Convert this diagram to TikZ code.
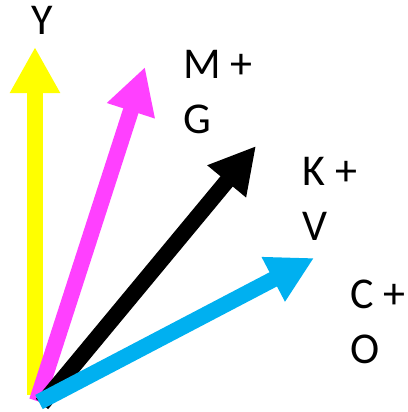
\documentclass[tikz,border=0pt]{standalone}
\usepackage{fontspec}
\setmainfont{Carlito}
\usetikzlibrary{arrows.meta}
\definecolor{ayellow}{HTML}{FFFF00}
\definecolor{amagenta}{HTML}{FF40FF}
\definecolor{acyan}{HTML}{00B0F0}
\begin{document}
\begin{tikzpicture}[x=1pt,y=-1pt,
  vec/.style={line width=16pt,-{Triangle[length=46pt,width=47pt]}},
  lbl/.style={inner sep=0pt,align=left,font=\fontsize{44}{55}\selectfont}]
\useasboundingbox (0,0) rectangle (407,412);
\coordinate (oy) at (35,395);
\coordinate (om) at (37,401);
\coordinate (ok) at (42,404);
\coordinate (oc) at (39,402);
\coordinate (ty) at (35,47);
\coordinate (tm) at (145,67);
\coordinate (tk) at (256,146);
\coordinate (tc) at (314,258);
\draw[vec,ayellow] (oy) -- (ty);
\draw[vec,amagenta] (om) -- (tm);
\draw[vec,black] (ok) -- (tk);
\draw[vec,acyan] (oc) -- (tc);
\node[lbl,anchor=base] (ly) at (42.5,35) {Y};
\node[lbl,anchor=base west] (lm) at (183,133) {M +\\G};
\node[lbl,anchor=base west] (lk) at (302,240) {K +\\V};
\node[lbl,anchor=base west] (lc) at (350,363) {C +\\O};
\end{tikzpicture}
\end{document}
